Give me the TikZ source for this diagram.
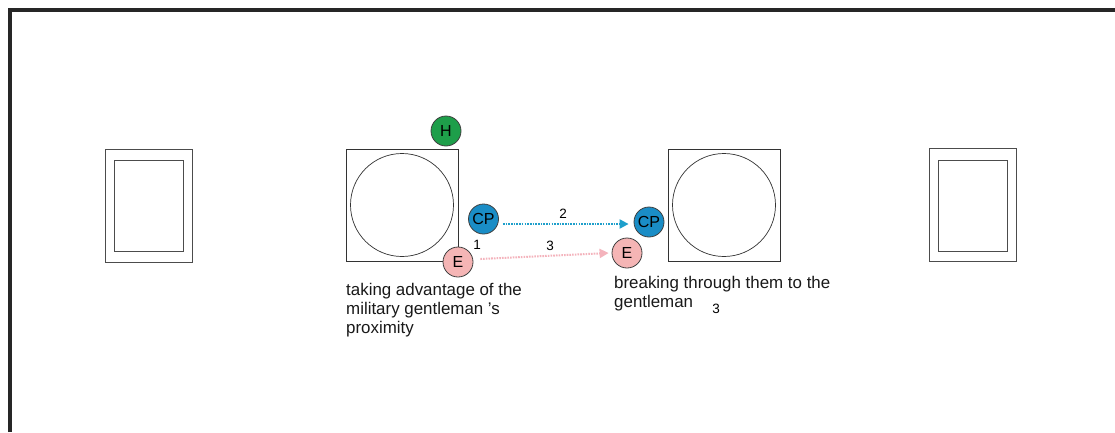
\documentclass[tikz,border=0pt]{standalone}
\usepackage{fontspec}
\setmainfont{Liberation Sans}
\usetikzlibrary{arrows.meta}
\definecolor{hgreen}{HTML}{1E9E4A}
\definecolor{cpblue}{HTML}{1A8DC6}
\definecolor{epink}{HTML}{F5B5B5}
\definecolor{arrblue}{HTML}{1E9FCB}
\definecolor{arrpink}{HTML}{F4B3BC}
\tikzset{
  token/.style={circle, draw=black!75, line width=0.8pt, minimum size=30pt, inner sep=0pt, font=\fontsize{16}{16}\selectfont},
  table/.style={draw=black!80, line width=0.7pt, minimum size=112pt, inner sep=0pt},
  seat/.style={circle, draw=black!80, line width=0.7pt, minimum size=103pt, inner sep=0pt},
  outerbox/.style={draw=black!70, line width=0.7pt, minimum width=87pt, minimum height=113pt, inner sep=0pt},
  innerbox/.style={draw=black!70, line width=0.7pt, minimum width=69pt, minimum height=91pt, inner sep=0pt},
  num/.style={font=\fontsize{13.5}{14}\selectfont, inner sep=0pt},
  caption/.style={align=left, inner sep=0pt, font=\fontsize{16.9}{19}\selectfont, text=black!90},
  move/.style={line width=2pt, dash pattern=on 1.6pt off 1.1pt, -{Triangle[length=9pt,width=9pt]}},
}
\begin{document}
\begin{tikzpicture}[x=1pt,y=-1pt]
\useasboundingbox (0,0) rectangle (1115,432);
\fill[white] (0,0) rectangle (1115,432);
% frame (top and left edges)
\draw[line width=3.2pt, draw=black!85] (10,432) -- (10,10) -- (1115,10);
% side boxes
\node[outerbox] (lbox) at (148.5,205.5) {};
\node[innerbox] (lboxin) at (148.5,205.5) {};
\node[outerbox] (rbox) at (973,205) {};
\node[innerbox] (rboxin) at (973,205.5) {};
% tables
\node[table] (tl) at (402,205.5) {};
\node[seat] (sl) at (402,205) {};
\node[table] (tr) at (724,205) {};
\node[seat] (sr) at (724,205) {};
% tokens
\node[token, fill=hgreen] (h) at (446,131) {H};
\node[token, fill=cpblue] (cpl) at (483.5,219) {CP};
\node[token, fill=epink] (el) at (458,262) {E};
\node[token, fill=cpblue] (cpr) at (649,222) {CP};
\node[token, fill=epink] (er) at (627,253) {E};
% moves
\draw[move, draw=arrblue, color=arrblue] ([xshift=4pt,yshift=-5pt]cpl.east) -- ([xshift=-5pt,yshift=-2pt]cpr.west);
\draw[move, draw=arrpink, color=arrpink] ([xshift=7pt,yshift=3pt]el.east) -- ([xshift=-3pt]er.west);
% numbers
\node[num] (n1) at (477,245) {1};
\node[num] (n2) at (563,214) {2};
\node[num] (n3) at (550,246) {3};
\node[num] (n4) at (716,309) {3};
% captions
\node[caption, anchor=north west] (capl) at (346,283) {taking advantage of the\\military gentleman 's\\proximity};
\node[caption, anchor=north west] (capr) at (614,276) {breaking through them to the\\gentleman};
\end{tikzpicture}
\end{document}
